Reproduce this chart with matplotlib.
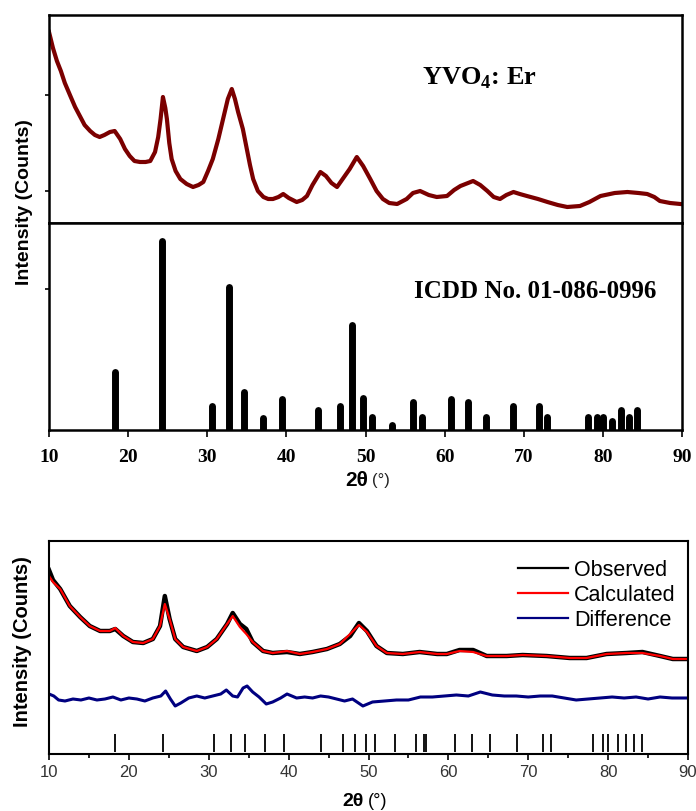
# -*- coding: utf-8 -*-
"""
YVO4:Er 的 XRD 图谱与 Rietveld 精修结果
"""

import numpy as np
import matplotlib
matplotlib.use('Agg')
import matplotlib.pyplot as plt

plt.rcParams['mathtext.fontset'] = 'custom'
plt.rcParams['mathtext.bf'] = 'Liberation Serif:bold'
plt.rcParams['mathtext.rm'] = 'Liberation Serif'

# ---- 上图: 实测 XRD 曲线 ----
xrd_x = [10.0, 10.5, 11.0, 11.5, 12.0, 12.7, 13.3, 13.9, 14.5, 15.2, 15.8, 16.4, 17.0, 17.7,
         18.3, 19.0, 19.6, 20.2, 20.8, 21.5, 22.2, 22.8, 23.4, 23.8, 24.1, 24.4, 24.7, 24.9,
         25.2, 25.5, 26.0, 26.6, 27.4, 28.2, 28.9, 29.5, 30.1, 30.7, 31.4, 32.0, 32.6, 33.1,
         33.5, 33.9, 34.5, 35.0, 35.4, 35.8, 36.4, 37.1, 37.7, 38.3, 39.0, 39.6, 40.3, 41.3,
         42.0, 42.6, 43.3, 44.3, 45.0, 45.7, 46.4, 47.2, 48.0, 48.9, 49.7, 50.6, 51.4, 52.2,
         53.0, 54.0, 55.2, 56.0, 56.9, 58.0, 59.0, 60.3, 61.2, 62.0, 63.6, 64.5, 65.4, 66.2,
         67.0, 67.8, 68.7, 69.5, 70.4, 71.8, 73.0, 74.3, 75.5, 77.1, 78.3, 79.7, 81.5, 83.1,
         84.5, 85.6, 86.5, 87.2, 88.5, 89.8]
xrd_y = [191, 175, 162, 152, 140, 127, 116, 107, 98, 92, 88, 86, 88, 91,
         92, 84, 74, 67, 62, 61, 61, 62, 71, 86, 104, 126, 115, 104,
         80, 64, 52, 44, 39, 36, 38, 41, 52, 64, 84, 104, 124, 134,
         124, 111, 94, 74, 58, 44, 32, 26, 24, 24, 26, 29, 25, 21,
         23, 27, 38, 51, 47, 40, 36, 45, 54, 66, 57, 44, 32, 24,
         20, 19, 24, 30, 32, 28, 26, 27, 33, 37, 42, 38, 32, 26,
         24, 28, 31, 29, 27, 24, 21, 18, 16, 17, 21, 27, 30, 31,
         30, 29, 26, 22, 20, 19]

# ---- 标准卡片峰位与强度 (ICDD 01-086-0996) ----
ref_pos = [18.3, 24.3, 30.6, 32.8, 34.6, 37.1, 39.4, 44.0, 46.8, 48.3, 49.7, 50.8, 53.3,
           56.0, 57.2, 60.8, 63.0, 65.2, 68.6, 71.9, 72.9, 78.1, 79.3, 80.0, 81.2, 82.3,
           83.3, 84.3]
ref_int = [58, 189, 24, 143, 38, 12, 31, 20, 24, 105, 32, 13, 5,
           28, 13, 31, 28, 13, 24, 24, 13, 13, 13, 13, 9, 20,
           13, 20]

# ---- 下图: 精修 (Observed / Calculated / Difference) ----
obs_x = [10.0, 10.5, 11.4, 12.6, 13.9, 15.1, 16.4, 17.6, 18.3, 19.3, 20.5, 21.8, 23.0, 23.9,
         24.5, 25.1, 25.8, 26.8, 28.5, 29.8, 31.0, 32.3, 33.0, 33.9, 34.7, 35.5, 36.8, 38.0,
         39.8, 41.4, 43.0, 44.8, 46.4, 47.7, 48.8, 49.8, 51.0, 52.3, 54.3, 56.4, 58.6, 59.8,
         61.4, 63.1, 64.8, 67.3, 69.3, 72.3, 75.2, 77.3, 79.8, 82.3, 84.3, 86.5, 88.1, 89.8]
obs_y = [184, 174, 165, 148, 137, 128, 123, 123, 125, 118, 112, 111, 115, 128,
         158, 135, 115, 107, 103, 107, 115, 130, 141, 130, 125, 112, 103, 101,
         102, 100, 102, 105, 110, 118, 131, 123, 108, 101, 100, 102, 100, 100,
         104, 104, 98, 98, 99, 98, 96, 96, 100, 101, 102, 98, 95, 95]
calc_y = [178, 172, 165, 148, 137, 128, 123, 123, 126, 118, 112, 111, 115, 128,
          150, 135, 115, 107, 103, 107, 115, 130, 138, 127, 120, 112, 103, 101,
          103, 100, 102, 105, 110, 120, 129, 122, 108, 101, 100, 102, 100, 100,
          103, 102, 98, 98, 99, 98, 96, 96, 100, 101, 101, 98, 95, 95]
diff_x = [10.0, 10.6, 11.2, 12.0, 13.0, 14.0, 15.0, 16.0, 17.0, 18.0, 19.0, 20.0, 21.0, 22.0,
          23.0, 24.0, 24.6, 25.2, 25.8, 26.5, 27.5, 28.5, 29.5, 30.5, 31.5, 32.2, 33.0, 33.6,
          34.3, 34.8, 35.5, 36.3, 37.2, 38.0, 39.0, 39.8, 41.0, 42.0, 43.0, 44.0, 45.0, 46.0,
          47.0, 48.0, 49.3, 50.5, 52.0, 53.5, 55.0, 56.5, 58.0, 59.5, 61.0, 62.5, 64.0, 65.5,
          67.0, 68.5, 70.0, 71.5, 73.0, 74.5, 76.0, 77.5, 79.0, 80.5, 82.0, 83.5, 85.0, 86.5,
          88.0, 89.8]
diff_y = [60, 58, 54, 53, 55, 54, 56, 54, 55, 57, 54, 56, 55, 53,
          56, 58, 63, 55, 48, 51, 56, 58, 56, 58, 60, 64, 58, 57,
          66, 68, 62, 57, 50, 52, 56, 60, 56, 57, 56, 58, 57, 55,
          53, 55, 48, 52, 53, 54, 54, 57, 57, 58, 59, 58, 62, 59,
          58, 58, 57, 58, 58, 56, 54, 55, 56, 57, 56, 57, 55, 57,
          56, 56]
tick_pos = [18.3, 24.3, 30.6, 32.8, 34.6, 37.1, 39.4, 44.0, 46.8, 48.3, 49.7, 50.8, 53.3,
            56.0, 57.0, 57.2, 60.8, 63.0, 65.2, 68.6, 71.9, 72.9, 78.1, 79.3, 80.0, 81.2,
            82.3, 83.3, 84.3]

serif = 'Liberation Serif'
sans = 'Liberation Sans'

fig = plt.figure(figsize=(6.96, 8.12), dpi=100)

# 上面两块共用 x 轴
ax1 = fig.add_axes([49/696, 1-224/812, 633/696, 208/812])
ax2 = fig.add_axes([49/696, 1-431/812, 633/696, 207/812], sharex=ax1)

ax1.plot(xrd_x, xrd_y, color='#7b0000', lw=3.0)
ax1.set_ylim(0, 208)
ax1.set_yticks([32, 128])
ax1.text((479-49)/633, (224-78)/208, 'YVO$_{\\mathbf{4}}$: Er', transform=ax1.transAxes,
         ha='center', va='center', fontsize=19, fontweight='bold', family=serif)

ax2.vlines(ref_pos, 0, ref_int, color='black', lw=5, capstyle='round')
ax2.set_ylim(0, 207)
ax2.set_yticks([141])
ax2.text((535-49)/633, (431-292)/207, 'ICDD No. 01-086-0996', transform=ax2.transAxes,
         ha='center', va='center', fontsize=18, fontweight='bold', family=serif)
ax2.set_xlim(10, 90)
ax2.set_xticks(range(10, 91, 10))

for ax in (ax1, ax2):
    for s in ax.spines.values():
        s.set_linewidth(1.8)
    ax.tick_params(axis='y', labelleft=False, length=3, width=1.2, direction='out')
ax1.tick_params(axis='x', labelbottom=False, length=0)
ax2.tick_params(axis='x', length=5, width=1.2, direction='out', pad=8)
for lb in ax2.get_xticklabels():
    lb.set_family(serif)
    lb.set_fontweight('bold')
    lb.set_fontsize(14)

fig.text(25/696, 1-202/812, 'Intensity (Counts)', rotation=90, ha='center', va='center',
         fontsize=14, fontweight='bold', family=sans)
fig.text(368/696, 1-481/812, '2θ', ha='right', va='center', fontsize=15, fontweight='bold', family=sans)
fig.text(372/696, 1-481/812, '(°)', ha='left', va='center', fontsize=12, family=sans, color='#222222')

# 下面的精修图
ax3 = fig.add_axes([49/696, 1-755/812, 639/696, 213/812])
ax3.plot(obs_x, obs_y, color='black', lw=3.2, label='Observed')
ax3.plot(obs_x, calc_y, color='red', lw=1.6, label='Calculated')
ax3.plot(diff_x, diff_y, color='#000080', lw=2.2, label='Difference')
ax3.vlines(tick_pos, 2, 20, color='black', lw=1.3)
ax3.set_xlim(10, 90)
ax3.set_ylim(0, 213)
ax3.set_yticks([])
ax3.set_xticks(range(10, 91, 10))
ax3.set_xticks(range(15, 90, 10), minor=True)
ax3.tick_params(axis='x', which='major', length=4, width=1.2, direction='out', labelsize=12,
                labelcolor='#333333')
ax3.tick_params(axis='x', which='minor', length=3, width=1.2, direction='out')
for s in ax3.spines.values():
    s.set_linewidth(1.5)
for lb in ax3.get_xticklabels():
    lb.set_family(sans)
leg = ax3.legend(loc='upper right', frameon=False, prop={'family': sans, 'size': 15.5},
                 handlelength=2.3, handletextpad=0.3, labelspacing=0.18,
                 bbox_to_anchor=(1.011, 1.005))
for h in leg.get_lines():
    h.set_linewidth(1.6)

fig.text(22/696, 1-642/812, 'Intensity (Counts)', rotation=90, ha='center', va='center',
         fontsize=14.5, fontweight='bold', family=sans)
fig.text(364/696, 1-802/812, '2θ', ha='right', va='center', fontsize=14, fontweight='bold', family=sans)
fig.text(368/696, 1-802/812, '(°)', ha='left', va='center', fontsize=13, family=sans)

fig.savefig('out.png', dpi=100)
